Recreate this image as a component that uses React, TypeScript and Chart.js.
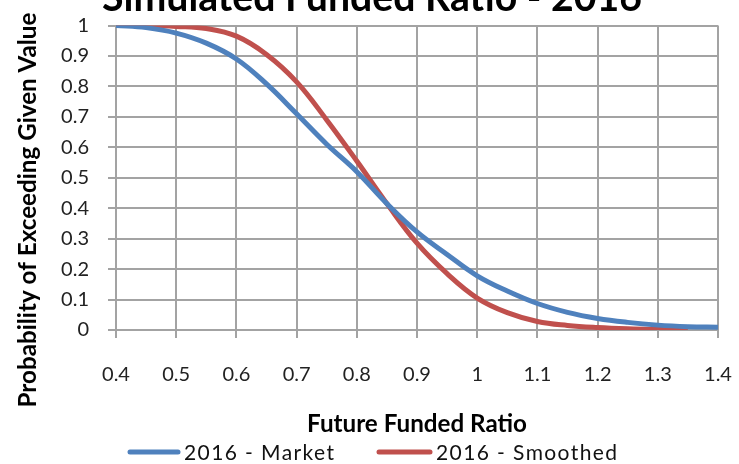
import React, { useEffect, useRef } from "react";
import { Chart, registerables } from "chart.js";

Chart.register(...registerables);

const titleText = "Simulated Funded Ratio - 2016";
const xTitleText = "Future Funded Ratio";
const yTitleText = "Probability of Exceeding Given Value";

const marketLabel = "2016 - Market";
const smoothedLabel = "2016 - Smoothed";

const marketX = [0.4, 0.45, 0.5, 0.55, 0.6, 0.65, 0.7, 0.75, 0.8, 0.85, 0.9, 0.95, 1.0, 1.05, 1.1, 1.15, 1.2, 1.25, 1.3, 1.35, 1.4];
const marketY = [1.0, 0.993, 0.975, 0.942, 0.89, 0.808, 0.71, 0.61, 0.52, 0.415, 0.322, 0.248, 0.178, 0.128, 0.087, 0.058, 0.038, 0.025, 0.016, 0.011, 0.009];

const smoothedX = [0.4, 0.45, 0.5, 0.55, 0.6, 0.65, 0.7, 0.75, 0.8, 0.85, 0.9, 0.95, 1.0, 1.05, 1.1, 1.15, 1.2, 1.25, 1.3, 1.35];
const smoothedY = [1.0, 1.0, 0.997, 0.99, 0.965, 0.905, 0.815, 0.69, 0.555, 0.415, 0.285, 0.185, 0.105, 0.057, 0.028, 0.015, 0.008, 0.004, 0.002, 0.001];

const blue = "#4f81bd";
const red = "#c0504d";
const gridColor = "#a3a3a3";
const FONT = "Lato, 'Open Sans', sans-serif";

function fitFont(ctx: any, text: string, weight: string, target: number) {
  ctx.font = `${weight} 20px ${FONT}`;
  const w = ctx.measureText(text).width;
  const size = (20 * target) / w;
  ctx.font = `${weight} ${size}px ${FONT}`;
}

const overlay = {
  id: "overlay",
  afterDraw(chart: any) {
    const ctx = chart.ctx;
    ctx.save();
    ctx.fillStyle = "#000";

    // Title (cut off at top)
    fitFont(ctx, titleText, "bold", 540);
    ctx.textAlign = "center";
    ctx.textBaseline = "alphabetic";
    ctx.fillText(titleText, 372, 11);

    // Y title
    ctx.save();
    ctx.translate(28, 210);
    ctx.rotate(-Math.PI / 2);
    fitFont(ctx, yTitleText, "bold", 395);
    ctx.textAlign = "center";
    ctx.textBaseline = "middle";
    ctx.fillText(yTitleText, 0, 0);
    ctx.restore();

    // X title
    fitFont(ctx, xTitleText, "bold", 220);
    ctx.textAlign = "center";
    ctx.textBaseline = "alphabetic";
    ctx.fillText(xTitleText, 417, 432);

    // Legend
    ctx.font = `21px ${FONT}`;
    try { (ctx as any).letterSpacing = "1.4px"; } catch (e) {}
    ctx.textAlign = "left";
    ctx.textBaseline = "alphabetic";
    const items = [
      { c: blue, t: marketLabel, x0: 128, x1: 180, tx: 184 },
      { c: red, t: smoothedLabel, x0: 377, x1: 432, tx: 436 },
    ];
    items.forEach((it) => {
      ctx.strokeStyle = it.c;
      ctx.lineWidth = 5;
      ctx.lineCap = "round";
      ctx.beginPath();
      ctx.moveTo(it.x0 + 2, 452);
      ctx.lineTo(it.x1 - 2, 452);
      ctx.stroke();
      ctx.fillStyle = "#111";
      ctx.fillText(it.t, it.tx, 460);
    });
    try { (ctx as any).letterSpacing = "0px"; } catch (e) {}
    ctx.restore();
  },
};

export default function App() {
  const ref = useRef<HTMLCanvasElement | null>(null);
  useEffect(() => {
    if (!ref.current) return;
    const chart = new Chart(ref.current, {
      type: "scatter",
      data: {
        datasets: [
          {
            label: marketLabel,
            data: marketX.map((x, i) => ({ x, y: marketY[i] })),
            showLine: true,
            borderColor: blue,
            backgroundColor: blue,
            borderWidth: 5,
            pointRadius: 0,
            tension: 0.4,
          },
          {
            label: smoothedLabel,
            data: smoothedX.map((x, i) => ({ x, y: smoothedY[i] })),
            showLine: true,
            borderColor: red,
            backgroundColor: red,
            borderWidth: 5,
            pointRadius: 0,
            tension: 0.4,
          },
        ],
      },
      options: {
        responsive: false,
        animation: false,
        layout: { autoPadding: false, padding: { left: 0, top: 25.5, right: 21, bottom: 0 } },
        plugins: { legend: { display: false }, title: { display: false }, tooltip: { enabled: false } },
        scales: {
          x: {
            type: "linear",
            min: 0.4,
            max: 1.4,
            ticks: {
              stepSize: 0.1,
              padding: 25,
              color: "#222",
              font: { family: FONT, size: 20 },
              maxRotation: 0,
              callback: (v: any) => String(Number(Number(v).toFixed(1))),
            },
            grid: { color: gridColor, lineWidth: 2, tickLength: 8 },
            border: { color: gridColor, width: 2 },
            afterFit: (s: any) => {
              s.height = 134;
              s.paddingLeft = 0;
              s.paddingRight = 0;
            },
          },
          y: {
            min: 0,
            max: 1,
            ticks: {
              stepSize: 0.1,
              padding: 19,
              color: "#222",
              font: { family: FONT, size: 20 },
              callback: (v: any) => String(Number(Number(v).toFixed(1))),
            },
            grid: { color: gridColor, lineWidth: 2, tickLength: 8 },
            border: { color: gridColor, width: 2 },
            afterFit: (s: any) => {
              s.width = 116;
              s.paddingTop = 0;
              s.paddingBottom = 0;
            },
          },
        },
      },
      plugins: [overlay],
    } as any);
    return () => chart.destroy();
  }, []);
  return (
    <div style={{ position: "fixed", left: 0, top: 0, width: 739, height: 464, background: "#fff" }}>
      <canvas ref={ref} width={739} height={464} style={{ width: 739, height: 464, display: "block" }} />
    </div>
  );
}
